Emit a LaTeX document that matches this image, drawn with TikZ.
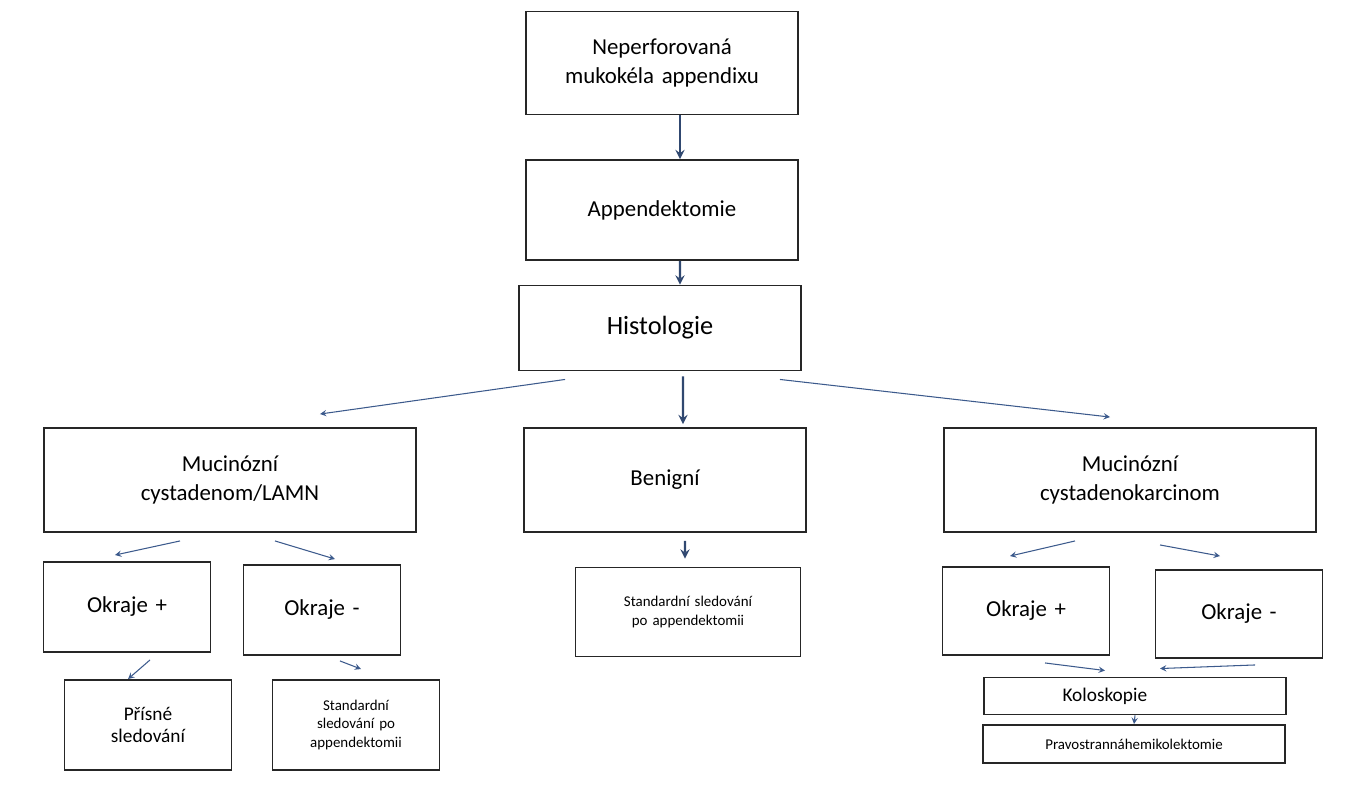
\documentclass[tikz,border=0pt]{standalone}
\usepackage{fontspec}
\setmainfont{Carlito}
\usetikzlibrary{positioning}
\definecolor{arrblue}{RGB}{60,90,140}
\begin{document}
\begin{tikzpicture}[
    x=0.02cm, y=-0.02cm,
    box/.style={draw=black!85, line width=1.1pt, align=center, inner sep=2pt},
    big/.style={font=\fontsize{13}{16}\selectfont},
    small/.style={font=\fontsize{8.5}{10.5}\selectfont},
    every path/.append style={>=stealth},
    arr/.style={->, draw=arrblue, line width=0.6pt},
    harr/.style={->, draw=arrblue!80!black, line width=1.3pt}
]
   \useasboundingbox (0,0) rectangle (1354,800);

   % Top chain
   \node[box, big, text width=5.3cm, minimum height=2.06cm] (nep) at (662,63) {Neperforovaná\\ mukokéla appendixu};
   \node[box, big, text width=5.3cm, minimum height=2cm] (app) at (662,210) {Appendektomie};
   \node[box, font=\fontsize{15}{18}\selectfont, text width=5.5cm, minimum height=1.7cm] (hist) at (660,328) {Histologie};

   % Second row
   \node[box, big, text width=7.3cm, minimum height=2.08cm] (mucl) at (230,480) {Mucinózní\\ cystadenom/LAMN};
   \node[box, big, text width=5.5cm, minimum height=2.08cm] (ben) at (665,480) {Benigní};
   \node[box, big, text width=7.3cm, minimum height=2.08cm] (mucr) at (1130,480) {Mucinózní\\ cystadenokarcinom};

   % Third row
   \node[box, big, text width=3.2cm, minimum height=1.8cm] (okpl) at (127,607) {Okraje +};
   \node[box, big, text width=3.0cm, minimum height=1.8cm] (okml) at (322,610) {Okraje -};
   \node[box, small, text width=4.36cm, minimum height=1.78cm] (std) at (688,612) {Standardní sledování\\ po appendektomii};
   \node[box, big, text width=3.2cm, minimum height=1.76cm] (okpr) at (1026,611) {Okraje +};
   \node[box, big, text width=3.2cm, minimum height=1.76cm] (okmr) at (1239,614) {Okraje -};

   % Bottom row
   \node[box, font=\fontsize{11}{13}\selectfont, text width=3.2cm, minimum height=1.8cm] (pris) at (148,725) {Přísné\\ sledování};
   \node[box, small, text width=3.2cm, minimum height=1.8cm] (stdl) at (356,725) {Standardní\\ sledování po\\ appendektomii};
   \node[box, font=\fontsize{11}{13}\selectfont, text width=5.9cm, minimum height=0.74cm, align=left] (kolo) at (1135,696) {\hspace*{1.5cm}Koloskopie};
   \node[box, small, text width=5.9cm, minimum height=0.76cm] (prav) at (1134,744) {Pravostrannáhemikolektomie};

   % Arrows
   \draw[harr] ([xshift=0.36cm]nep.south) -- ([xshift=0.36cm]app.north);
   \draw[harr] ([xshift=0.36cm]app.south) -- ([xshift=0.4cm]hist.north);
   \draw[harr] ([xshift=0.46cm,yshift=-0.1cm]hist.south) -- ([xshift=0.36cm,yshift=0.06cm]ben.north);
   \draw[arr] ([xshift=-1.9cm,yshift=-0.16cm]hist.south) -- ([xshift=1.8cm,yshift=0.26cm]mucl.north);
   \draw[arr] ([xshift=2.4cm,yshift=-0.16cm]hist.south) -- ([xshift=-0.4cm,yshift=0.2cm]mucr.north);
   \draw[arr] ([xshift=-1cm,yshift=-0.16cm]mucl.south) -- ([xshift=-0.24cm,yshift=0.12cm]okpl.north);
   \draw[arr] ([xshift=0.9cm,yshift=-0.16cm]mucl.south) -- ([xshift=0.26cm,yshift=0.1cm]okml.north);
   \draw[harr] ([xshift=0.4cm,yshift=-0.16cm]ben.south) -- ([xshift=-0.06cm,yshift=0.16cm]std.north);
   \draw[arr] ([xshift=-1.1cm,yshift=-0.16cm]mucr.south) -- ([xshift=-0.32cm,yshift=0.2cm]okpr.north);
   \draw[arr] ([xshift=0.6cm,yshift=-0.24cm]mucr.south) -- ([xshift=-0.38cm,yshift=0.26cm]okmr.north);
   \draw[arr] ([xshift=0.46cm,yshift=-0.14cm]okpl.south) -- ([xshift=-0.4cm]pris.north);
   \draw[arr] ([xshift=0.36cm,yshift=-0.1cm]okml.south) -- ([xshift=0.1cm,yshift=0.2cm]stdl.north);
   \draw[arr] ([xshift=0.38cm,yshift=-0.14cm]okpr.south) -- ([xshift=-0.6cm,yshift=0.12cm]kolo.north);
   \draw[arr] ([xshift=0.32cm,yshift=-0.12cm]okmr.south) -- ([xshift=0.5cm,yshift=0.16cm]kolo.north);
   \draw[arr] (kolo.south) -- (prav.north);
\end{tikzpicture}
\end{document}
